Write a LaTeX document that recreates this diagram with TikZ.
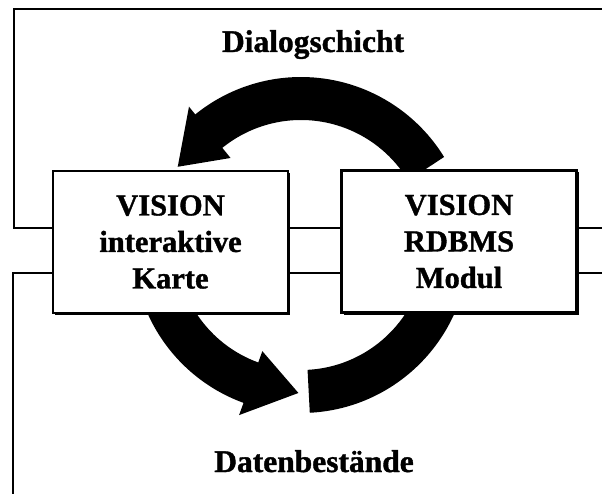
\documentclass[tikz,border=0pt]{standalone}
\usepackage{fontspec}
\setmainfont{Liberation Serif}[BoldFeatures={FakeBold=1.2}]
\usetikzlibrary{calc,shadows}
\begin{document}
\begin{tikzpicture}[x=1pt,y=1pt,
  frame/.style={line width=2pt},
  modbox/.style={draw, line width=2.8pt, fill=white, minimum width=235pt, minimum height=142pt,
    inner sep=0pt, align=center, font=\fontsize{30.5}{36.5}\selectfont\bfseries,
    drop shadow={shadow xshift=2pt,shadow yshift=-2pt,fill=black,opacity=1}},
  layer/.style={font=\fontsize{31.5}{36}\selectfont\bfseries, anchor=base, inner sep=0pt},
  band/.style={fill=black}]
\useasboundingbox (0,0) rectangle (602,493);
\clip (0,0) rectangle (602,493);
\coordinate (C) at (301,248);
% upper frame (Dialogschicht)
\coordinate (tr1) at (620,484);
\coordinate (t1) at (14,484);
\coordinate (t2) at (14,265);
\coordinate (tr2) at (620,265);
\draw[frame] (tr1) -- (t1) -- (t2) -- (tr2);
% lower frame (Datenbestaende)
\coordinate (b1) at (13,-10);
\coordinate (b2) at (13,220);
\coordinate (br) at (620,220);
\draw[frame] (b1) -- (b2) -- (br);
% top circular arrow (right -> left)
\fill[band] ($(C)+(31.6:168)$) arc[start angle=31.6, end angle=129, radius=168]
  -- ($(C)+(129:178)$) -- ($(C)+(147.6:146)$) -- ($(C)+(129:112)$)
  -- ($(C)+(129:125)$) arc[start angle=129, end angle=31, radius=125] -- cycle;
% bottom-left arrow with head
\fill[band] ($(C)+(180:168)$) arc[start angle=180, end angle=250, radius=168]
  -- ($(C)+(250:181)$) -- ($(C)+(269:148)$) -- ($(C)+(250:113)$)
  -- ($(C)+(250:125)$) arc[start angle=250, end angle=180, radius=125] -- cycle;
% bottom-right band
\fill[band] ($(C)+(273:168)$) arc[start angle=273, end angle=360, radius=168]
  -- ($(C)+(0:125)$) arc[start angle=360, end angle=273, radius=125] -- cycle;
% modules
\node[modbox] (vik) at (170.5,251) {VISION\\interaktive\\Karte};
\node[modbox] (vrm) at (459,251.5) {VISION\\RDBMS\\Modul};
% layer labels
\node[layer] (dlg) at (313,441) {Dialogschicht};
\node[layer] (dat) at (314,21) {Datenbestände};
\end{tikzpicture}
\end{document}
